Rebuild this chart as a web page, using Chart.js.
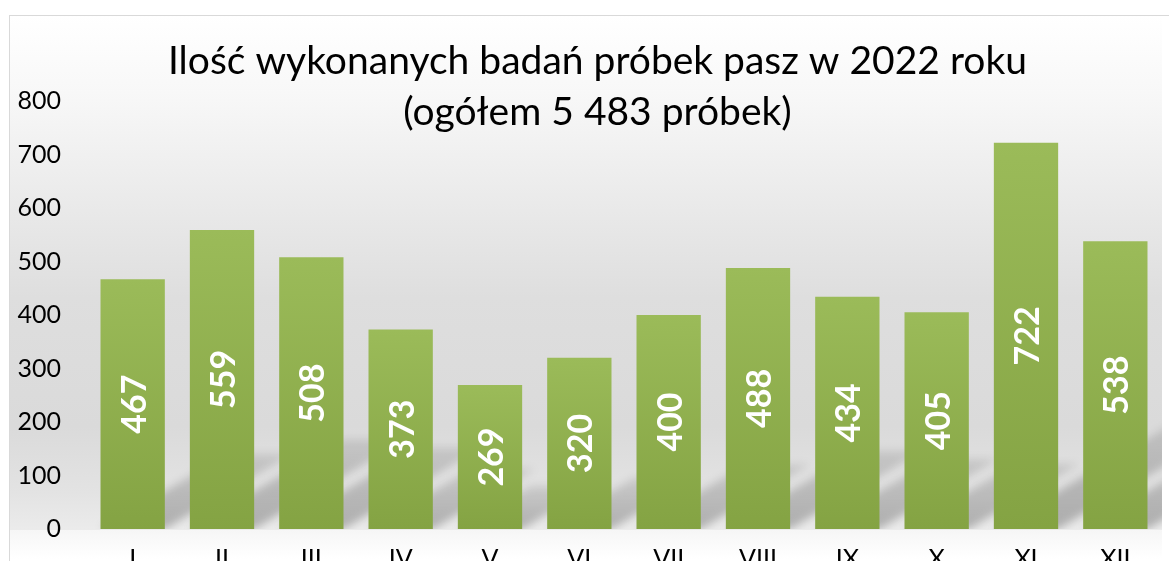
<!DOCTYPE html>
<html>
<head>
<meta charset="utf-8">
<script src="https://cdn.jsdelivr.net/npm/chart.js@4"></script>
<style>
    body { margin: 0; overflow: hidden; background: #fff; }
    #wrap { width: 1169px; height: 600px; position: relative; }
</style>
</head>
<body>
<div id="wrap"><canvas id="chart"></canvas></div>
<script>
// chart data
const months = ['I', 'II', 'III', 'IV', 'V', 'VI', 'VII', 'VIII', 'IX', 'X', 'XI', 'XII'];
const samples = [467, 559, 508, 373, 269, 320, 400, 488, 434, 405, 722, 538];
const yMin = 0;
const yMax = 800;
const yStep = 100;
const titleLines = ['Ilość wykonanych badań próbek pasz w 2022 roku', '(ogółem 5 483 próbek)'];

const ctxt = document.getElementById('chart').getContext('2d');

// gray "wall" behind the bars plus the chart border
const backdrop = {
    id: 'backdrop',
    beforeDraw(chart) {
        const c = chart.ctx;
        const area = chart.chartArea;
        c.save();
        c.fillStyle = '#ffffff';
        c.fillRect(0, 0, chart.width, chart.height);

        let g = c.createLinearGradient(0, 15, 0, area.bottom);
        g.addColorStop(0, '#ffffff');
        g.addColorStop(0.15, '#f8f8f8');
        g.addColorStop(0.55, '#dedede');
        g.addColorStop(0.8, '#dadada');
        g.addColorStop(0.93, '#e3e3e3');
        g.addColorStop(1, '#ebebeb');
        c.fillStyle = g;
        c.fillRect(9, 15, area.right + 2 - 9, area.bottom + 1 - 15);

        let f = c.createLinearGradient(0, area.bottom + 1, 0, area.bottom + 30);
        f.addColorStop(0, '#f6f6f6');
        f.addColorStop(1, '#ffffff');
        c.fillStyle = f;
        c.fillRect(9, area.bottom + 1, area.right + 2 - 9, 30);

        c.strokeStyle = '#d9d9d9';
        c.lineWidth = 1;
        c.strokeRect(9.5, 15.5, chart.width + 20, chart.height + 20);
        c.restore();
    }
};

// soft diagonal shadows behind each bar
const barShadows = {
    id: 'barShadows',
    beforeDatasetsDraw(chart) {
        const c = chart.ctx;
        const area = chart.chartArea;
        const meta = chart.getDatasetMeta(0);
        c.save();
        c.beginPath();
        c.rect(9, 15, area.right + 2 - 9, area.bottom - 15);
        c.clip();
        c.filter = 'blur(4px)';
        meta.data.forEach((bar) => {
            const left = bar.x - bar.width / 2;
            const right = bar.x + bar.width / 2;
            const len = (bar.base - bar.y) * 0.3;
            const dx = len * 1.7;
            const g = c.createLinearGradient(0, bar.base, 0, bar.base - len);
            g.addColorStop(0, 'rgba(0,0,0,0.26)');
            g.addColorStop(1, 'rgba(0,0,0,0.1)');
            c.fillStyle = g;
            c.beginPath();
            c.moveTo(left, bar.base);
            c.lineTo(right, bar.base);
            c.lineTo(right + dx, bar.base - len);
            c.lineTo(left + dx, bar.base - len);
            c.closePath();
            c.fill();
        });
        c.restore();
    }
};

// rotated white value labels in the middle of the bars
const barLabels = {
    id: 'barLabels',
    afterDatasetsDraw(chart) {
        const c = chart.ctx;
        const meta = chart.getDatasetMeta(0);
        c.save();
        c.fillStyle = '#ffffff';
        c.font = 'bold 34px Lato';
        c.textAlign = 'center';
        c.textBaseline = 'middle';
        meta.data.forEach((bar, i) => {
            c.save();
            c.translate(bar.x, (bar.y + bar.base) / 2);
            c.rotate(-Math.PI / 2);
            c.fillText(samples[i], 0, 2);
            c.restore();
        });
        c.restore();
    }
};

// two-line title, overlapping the top of the plot like the original
const titleText = {
    id: 'titleText',
    afterDraw(chart) {
        const c = chart.ctx;
        c.save();
        c.fillStyle = '#000000';
        c.font = '39px Lato';
        c.textAlign = 'center';
        c.textBaseline = 'middle';
        const cx = (9 + chart.width + 17) / 2;
        titleLines.forEach((line, i) => {
            c.fillText(line, cx, 61 + i * 51);
        });
        c.restore();
    }
};

function barFill(context) {
    const chart = context.chart;
    const area = chart.chartArea;
    if (!area) {
        return '#92b24f';
    }
    const top = chart.scales.y.getPixelForValue(context.raw);
    const g = chart.ctx.createLinearGradient(0, top, 0, area.bottom);
    g.addColorStop(0, '#9bbb59');
    g.addColorStop(1, '#84a343');
    return g;
}

function createChart() {
    let data = {
        labels: months,
        datasets: [{
            data: samples,
            backgroundColor: barFill,
            borderWidth: 0,
            barPercentage: 0.72,
            categoryPercentage: 1.0
        }]
    };

    let options = {
        responsive: true,
        maintainAspectRatio: false,
        animation: false,
        layout: {
            padding: { top: 101, right: 9, bottom: 19, left: 0 }
        },
        plugins: {
            legend: { display: false },
            title: { display: false },
            tooltip: { enabled: false }
        },
        scales: {
            x: {
                grid: { display: false },
                border: { display: false },
                ticks: {
                    color: '#000000',
                    font: { family: 'Lato', size: 25 },
                    padding: 7,
                    maxRotation: 0
                }
            },
            y: {
                min: yMin,
                max: yMax,
                grid: { display: false },
                border: { display: false },
                ticks: {
                    stepSize: yStep,
                    color: '#000000',
                    font: { family: 'Lato', size: 25 },
                    padding: 19
                },
                afterFit(scale) {
                    scale.width = 88;
                }
            }
        }
    };

    return new Chart(ctxt, {
        type: 'bar',
        data: data,
        options: options,
        plugins: [backdrop, barShadows, barLabels, titleText]
    });
}

var chart = createChart();
</script>
</body>
</html>
